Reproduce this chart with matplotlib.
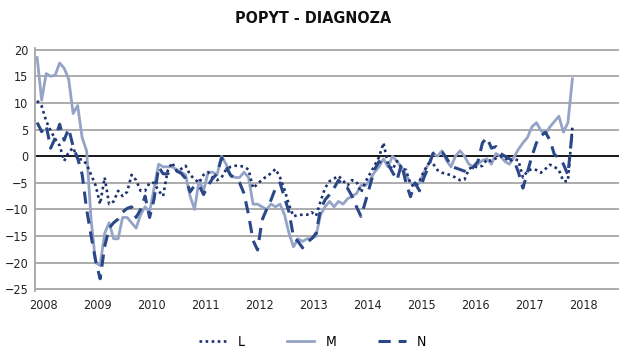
import numpy as np
import matplotlib
matplotlib.use("Agg")
import matplotlib.pyplot as plt

plt.rcParams['font.family'] = ['DejaVu Sans']
plt.rcParams['font.stretch'] = 'condensed'

# monthly readings, Jan 2008 - Dec 2017
L = [10.4, 9.4, 6.6, 4.8, 3.2, 2.0, -0.9, 0.7, 1.6, -0.6, -0.6, -1.5,
     -3.5, -5.5, -9.0, -4.0, -9.0, -8.5, -6.5, -7.5, -6.7, -3.5, -4.5, -6.5,
     -6.5, -5.0, -5.0, -6.5, -7.5, -2.8, -1.2, -2.8, -2.4, -1.8, -3.5, -4.3,
     -5.0, -3.5, -3.0, -4.0, -4.5, -4.0, -2.5, -2.0, -1.8, -1.8, -2.0, -2.5,
     -6.0, -5.2, -4.4, -3.8, -3.2, -2.4, -4.0, -6.3, -9.2, -11.3, -11.0, -11.0,
     -11.0, -10.5, -11.2, -8.5, -6.0, -4.7, -4.2, -3.7, -4.6, -5.5, -4.5, -4.8,
     -6.8, -4.8, -3.3, -1.8, -0.2, 2.5, -1.5, -2.5, -0.9, -2.2, -2.6, -5.2,
     -5.8, -4.7, -2.8, -1.4, -1.4, -2.6, -3.1, -3.3, -3.6, -4.0, -4.5, -4.4,
     -2.4, -1.9, -2.1, -1.8, -0.6, -0.9, -0.4, 0.0, -0.3, -1.0, -0.5, -0.8,
     -4.0, -2.8, -2.4, -2.6, -3.1, -2.4, -1.6, -2.0, -2.6, -4.7, -4.7, 5.5]

M = [18.5, 10.5, 15.5, 15.0, 15.2, 17.5, 16.5, 14.5, 8.0, 9.5, 3.5, 1.0,
     -12.0, -20.0, -20.5, -14.5, -12.5, -15.5, -15.5, -11.5, -11.5, -12.5, -13.5, -11.0,
     -9.5, -10.5, -6.0, -1.5, -2.0, -2.0, -2.0, -2.5, -3.0, -3.5, -7.5, -10.0,
     -4.5, -6.5, -3.0, -3.0, -3.5, 0.0, -1.5, -3.5, -4.0, -4.0, -3.0, -4.0,
     -9.0, -9.0, -9.5, -10.0, -9.0, -9.5, -9.0, -11.0, -14.5, -17.0, -15.5, -16.0,
     -15.5, -15.5, -15.0, -11.0, -9.5, -8.5, -9.5, -8.5, -9.0, -8.0, -7.5, -7.0,
     -5.5, -5.5, -4.5, -3.0, -2.0, -0.5, -2.0, 0.0, -1.0, -2.0, -3.5, -5.0,
     -5.5, -5.0, -3.0, -1.5, 0.5, 0.0, 1.0, -0.8, -2.0, 0.0, 1.0, 0.0,
     -1.5, -2.0, -1.5, -0.8, -0.5, -1.5, 0.5, 0.0, -1.0, -1.5, -0.2, 1.3,
     2.5, 3.5, 5.5, 6.3, 4.8, 4.2, 5.5, 6.5, 7.5, 4.5, 6.3, 14.5]

N = [6.3, 4.6, 5.8, 1.5, 3.4, 6.0, 3.0, 5.2, 1.8, -0.4, -3.4, -10.0,
     -15.0, -19.6, -23.0, -17.0, -13.5, -12.5, -11.8, -10.5, -9.8, -9.5, -11.5, -10.0,
     -7.5, -11.5, -8.0, -2.0, -3.3, -3.3, -2.7, -2.8, -3.2, -4.2, -6.7, -5.5,
     -5.5, -7.2, -5.5, -4.2, -3.3, -0.3, -2.0, -3.6, -4.2, -5.0, -7.0, -11.0,
     -15.8, -17.6, -12.0, -10.0, -8.2, -6.0, -5.0, -7.8, -10.5, -15.2, -16.0, -17.2,
     -16.2, -15.5, -14.5, -10.0, -8.2, -7.2, -6.0, -4.5, -5.5, -6.0, -7.5, -9.5,
     -11.3, -8.5, -5.5, -2.5, -1.0, -1.5, -1.5, -3.0, -4.5, -1.5, -5.0, -7.6,
     -5.0, -6.5, -4.0, -2.0, 0.5, 1.0, 0.8, -0.3, -1.8, -2.2, -2.5, -2.8,
     -3.0, -2.0, -1.0, 2.5, 3.5, 1.5, 1.8, 0.5, 0.0, -0.5, -0.8, -3.0,
     -6.0, -3.0, 0.0, 2.5, 3.8, 4.5, 3.0, 0.3, -0.3, -1.5, -3.5, 5.0]

years = list(range(2008, 2019))

t = 2008 + np.arange(len(M)) / 12.0

fig = plt.figure(figsize=(6.19, 3.51), dpi=100)
ax = fig.add_axes([35 / 619, 1 - 291 / 351, 1 - 35 / 619, (291 - 48) / 351])

for v in range(-25, 21, 5):
    ax.axhline(v, color='#a6a6a6', lw=1.3, zorder=1)
ax.axhline(0, color='black', lw=1.2, zorder=2)

ax.plot(t, M, color='#95a3c6', lw=2.0, label='M', zorder=3)
ax.plot(t, L, color='#1d3170', lw=1.9, linestyle=(0, (1, 1.3)), label='L', zorder=4)
ax.plot(t, N, color='#2a4888', lw=2.2, linestyle=(0, (4, 2.6)), label='N', zorder=5)

ax.set_xlim(2008 - 0.04, 2018.78)
ax.set_ylim(-25.3, 20.3)
ax.set_yticks(range(-25, 21, 5))
ax.set_xticks([y + 0.12 for y in years])
ax.set_xticklabels([str(y) for y in years])
ax.tick_params(length=0, labelsize=9, colors='#222222')
ax.tick_params(axis='x', pad=6)
ax.tick_params(axis='y', pad=5)

for s in ['top', 'right', 'bottom']:
    ax.spines[s].set_visible(False)
ax.spines['left'].set_color('#a6a6a6')
ax.spines['left'].set_linewidth(1.3)

fig.text(0.505, 0.948, 'POPYT - DIAGNOZA', ha='center', va='center',
         fontsize=11.5, fontweight='bold', color='#111111')

h, lab = ax.get_legend_handles_labels()
order = [1, 0, 2]
fig.legend([h[i] for i in order], [lab[i] for i in order], loc='center',
           bbox_to_anchor=(0.505, 1 - 342 / 351), ncol=3, frameon=False,
           fontsize=10, handlelength=2.0, columnspacing=3.0, handletextpad=0.8)

fig.savefig('out.png', dpi=100)
